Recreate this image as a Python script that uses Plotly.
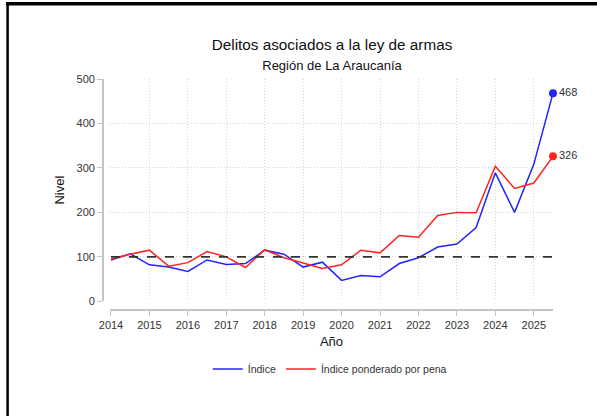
import plotly.graph_objects as go

# Semestres (año + 0.5 = segundo semestre)
periodos = [2014.0, 2014.5, 2015.0, 2015.5, 2016.0, 2016.5, 2017.0, 2017.5,
            2018.0, 2018.5, 2019.0, 2019.5, 2020.0, 2020.5, 2021.0, 2021.5,
            2022.0, 2022.5, 2023.0, 2023.5, 2024.0, 2024.5, 2025.0, 2025.5]

indice = [93, 107, 82, 77, 67, 93, 83, 85, 115, 106, 77, 88,
          47, 58, 55, 85, 98, 122, 129, 166, 289, 200, 308, 468]

indice_pena = [95, 106, 115, 79, 87, 112, 100, 76, 116, 98, 86, 74,
               82, 115, 109, 148, 144, 193, 200, 199, 304, 254, 266, 326]

anios = [2014, 2015, 2016, 2017, 2018, 2019, 2020, 2021, 2022, 2023, 2024, 2025]
niveles = [0, 100, 200, 300, 400, 500]
base = 100

AZUL = "rgb(35,35,255)"
ROJO = "rgb(255,35,35)"
GRIS = "#c4c4c4"
FUENTE = "Liberation Sans, Arial, sans-serif"

# helpers: pixel -> paper (plot area 103..553.5 x 79..310)
L, R, T, B = 103, 43.5, 79, 106
W, H = 597 - L - R, 416 - T - B
def px(x):
    return (x - L) / W
def py(y):
    return (416 - B - y) / H

fig = go.Figure()

fig.add_trace(go.Scatter(x=periodos, y=indice, mode="lines", name="Índice",
                         line=dict(color=AZUL, width=1.5)))
fig.add_trace(go.Scatter(x=periodos, y=indice_pena, mode="lines",
                         name="Índice ponderado por pena",
                         line=dict(color=ROJO, width=1.5)))

# último valor resaltado
for serie, color in [(indice, AZUL), (indice_pena, ROJO)]:
    fig.add_trace(go.Scatter(x=[periodos[-1]], y=[serie[-1]], mode="markers+text",
                             text=[str(serie[-1])], textposition="middle right",
                             textfont=dict(size=11, color="#333333", family=FUENTE),
                             marker=dict(color=color, size=8), showlegend=False,
                             cliponaxis=False, hoverinfo="skip"))

# línea base 100
fig.add_shape(type="line", xref="x", yref="y", x0=periodos[0], x1=periodos[-1],
              y0=base, y1=base, line=dict(color="#333333", width=1.6, dash="dash"))

# marco del recorte (borde superior e izquierdo)
fig.add_shape(type="line", xref="paper", yref="paper", x0=px(6.5), x1=px(600),
              y0=py(4), y1=py(4), line=dict(color="black", width=3), layer="above")
fig.add_shape(type="line", xref="paper", yref="paper", x0=px(7.5), x1=px(7.5),
              y0=py(3), y1=py(420), line=dict(color="black", width=2.5), layer="above")

fig.update_layout(
    width=597, height=416,
    margin=dict(l=L, r=R, t=T, b=B),
    paper_bgcolor="white", plot_bgcolor="white",
    font=dict(family=FUENTE, color="#333333", size=11),
    title=dict(text="Delitos asociados a la ley de armas<br>"
                    "<span style='font-size:13px'>Región de La Araucanía</span>",
               x=332 / 597, xanchor="center", y=1 - 50 / 416, yanchor="top",
               font=dict(size=15.3, color="#111111", family=FUENTE)),
    xaxis=dict(range=[periodos[0] - 1 / 38.5, periodos[-1]], domain=[px(110), 1],
               anchor="free", position=0,
               tickvals=anios, ticks="outside", ticklen=5, tickwidth=1.2,
               tickcolor=GRIS, showline=True, linecolor=GRIS, linewidth=1.8,
               showgrid=True, gridcolor="#d4d4d4", griddash="1px,2px", gridwidth=1,
               zeroline=False, tickfont=dict(size=11, color="#333333"),
               title=dict(text="Año", font=dict(size=13, color="#111111"), standoff=6)),
    yaxis=dict(range=[0, 500], domain=[py(301.3), 1], anchor="free", position=0,
               tickvals=niveles, ticks="outside", ticklen=5, tickwidth=1.2,
               tickcolor=GRIS, showline=True, linecolor=GRIS, linewidth=1.8,
               showgrid=True, gridcolor="#d4d4d4", griddash="1px,2px", gridwidth=1,
               zeroline=False, tickfont=dict(size=11, color="#333333"),
               title=dict(text="Nivel", font=dict(size=13, color="#111111"), standoff=8)),
    legend=dict(orientation="h", x=px(330), xanchor="center", y=py(369),
                yanchor="middle", font=dict(size=10.5, color="#333333"),
                itemwidth=30, tracegroupgap=0),
    showlegend=True,
)

# quitar el margen del body; borde superior del recorte como respaldo
borde = ("var d=document.createElement('div');"
         "d.style.cssText='position:fixed;left:6px;top:2px;width:600px;height:3px;"
         "background:#000;z-index:1000;pointer-events:none';"
         "document.body.appendChild(d);")
fig.write_html("out.html", config={"displayModeBar": False},
               post_script="document.body.style.margin='0px';"
                           "document.documentElement.style.overflow='hidden';" + borde)
